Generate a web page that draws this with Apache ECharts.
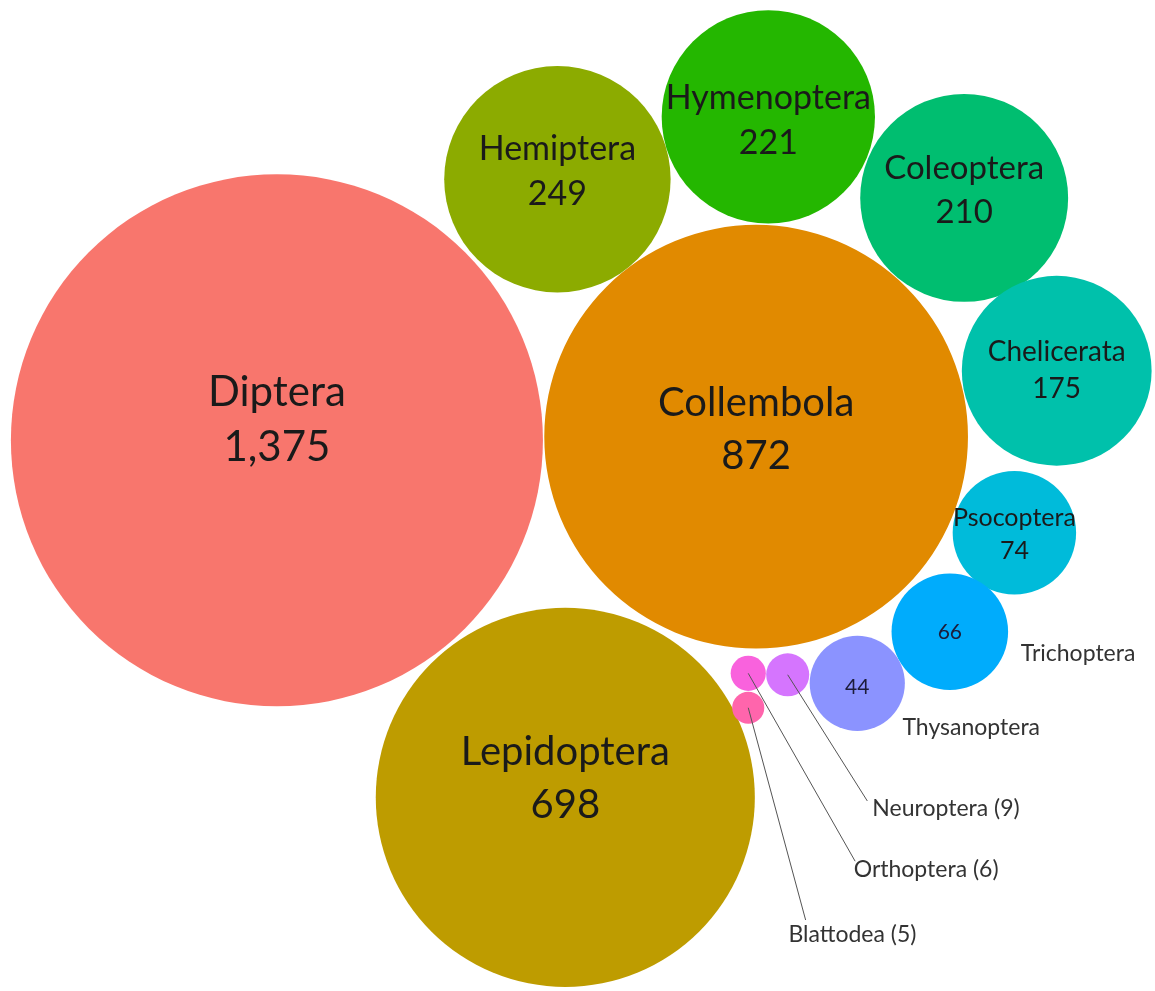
<!DOCTYPE html>
<html>
<head>
<meta charset="utf-8">
<title>Arthropod orders</title>
<script src="https://cdn.jsdelivr.net/npm/echarts@6/dist/echarts.min.js"></script>
<style>
  html, body { margin: 0; padding: 0; background: #ffffff; }
  #chart { width: 1155px; height: 991px; }
</style>
</head>
<body>
<div id="chart"></div>
<script>
// Specimen counts per order
const orders = ['Diptera', 'Collembola', 'Lepidoptera', 'Hemiptera', 'Hymenoptera', 'Coleoptera',
  'Chelicerata', 'Psocoptera', 'Trichoptera', 'Thysanoptera', 'Neuroptera', 'Orthoptera', 'Blattodea'];
const counts = [1375, 872, 698, 249, 221, 210, 175, 74, 66, 44, 9, 6, 5];

// Packed-circle layout: centres in the same units as the radius (radius = sqrt(count))
const centerX = [38.6, 105.4, 78.8, 77.7, 107.1, 134.4, 147.3, 141.4, 132.4, 119.5, 109.8, 104.3, 104.3];
const centerY = [61.4, 60.9, 111.2, 25.0, 16.3, 27.6, 51.7, 74.3, 88.1, 95.3, 94.1, 93.9, 98.7];

// How each circle is labelled: full label inside, value inside + name outside, or callout
const labelMode = ['inside', 'inside', 'inside', 'inside', 'inside', 'inside',
  'inside', 'inside', 'valueInside', 'valueInside', 'callout', 'callout', 'callout'];

// Outside label anchors (left edge, vertical middle) and callout line ends, layout units
const outsideLabelX = [null, null, null, null, null, null, null, null, 142.3, 125.8, 121.6, 119.0, 109.9];
const outsideLabelY = [null, null, null, null, null, null, null, null, 91.2, 101.4, 112.7, 121.3, 130.4];
const calloutEndX = [null, null, null, null, null, null, null, null, null, null, 120.9, 119.2, 112.3];
const calloutEndY = [null, null, null, null, null, null, null, null, null, null, 111.7, 120.1, 128.3];

// Styling
const palette = ['#F8766D', '#E18A00', '#BE9C00', '#8CAB00', '#24B700', '#00BE70',
  '#00C1AB', '#00BBDA', '#00ACFC', '#8B93FF', '#D575FE', '#F962DD', '#FF65AC'];
const innerFontSize = [42, 40, 40, 34, 34, 33, 28, 25, 21, 21, 0, 0, 0];
const innerShiftY = [-20, -7, -19, -8, 4, -8, 0, 2, 0, 4, 0, 0, 0];
const outerFontSize = 23;
const fontFamily = 'Lato, "Open Sans", sans-serif';

const fmt = v => v.toLocaleString('en-US');

const seriesData = orders.map((name, i) => ({
  name: name,
  value: [centerX[i], centerY[i], Math.sqrt(counts[i]), counts[i]]
}));

function renderItem(params, api) {
  const i = params.dataIndex;
  const c = api.coord([api.value(0), api.value(1)]);
  const r = api.size([api.value(2), 0])[0];
  const count = api.value(3);
  const children = [{
    type: 'circle',
    shape: { cx: c[0], cy: c[1], r: r },
    style: { fill: palette[i] }
  }];
  const mode = labelMode[i];
  if (mode === 'inside') {
    children.push({
      type: 'text',
      style: {
        x: c[0], y: c[1] + innerShiftY[i],
        text: orders[i] + '\n' + fmt(count),
        fill: '#1a1a1a',
        font: innerFontSize[i] + 'px ' + fontFamily,
        lineHeight: Math.round(innerFontSize[i] * 1.32),
        align: 'center', verticalAlign: 'middle'
      },
      z2: 10
    });
  } else {
    if (mode === 'valueInside') {
      children.push({
        type: 'text',
        style: {
          x: c[0], y: c[1] + innerShiftY[i],
          text: fmt(count),
          fill: '#1c1c3a',
          font: innerFontSize[i] + 'px ' + fontFamily,
          align: 'center', verticalAlign: 'middle'
        },
        z2: 10
      });
    }
    const lp = api.coord([outsideLabelX[i], outsideLabelY[i]]);
    const outsideText = mode === 'callout' ? orders[i] + ' (' + count + ')' : orders[i];
    children.push({
      type: 'text',
      style: {
        x: lp[0], y: lp[1],
        text: outsideText,
        fill: '#333333',
        font: outerFontSize + 'px ' + fontFamily,
        align: 'left', verticalAlign: 'middle'
      },
      z2: 10
    });
    if (mode === 'callout') {
      const e = api.coord([calloutEndX[i], calloutEndY[i]]);
      children.push({
        type: 'line',
        shape: { x1: c[0], y1: c[1], x2: e[0], y2: e[1] },
        style: { stroke: '#555555', lineWidth: 1 },
        z2: 5
      });
    }
  }
  return { type: 'group', children: children };
}

const chart = echarts.init(document.getElementById('chart'), null, { renderer: 'canvas' });
chart.setOption({
  backgroundColor: '#ffffff',
  animation: false,
  grid: { left: 0, top: 0, width: 1155, height: 991 },
  xAxis: { type: 'value', min: 0, max: 161, show: false },
  yAxis: { type: 'value', min: 0, max: 138.2, inverse: true, show: false },
  series: [{
    type: 'custom',
    renderItem: renderItem,
    data: seriesData,
    clip: false
  }]
});
</script>
</body>
</html>
